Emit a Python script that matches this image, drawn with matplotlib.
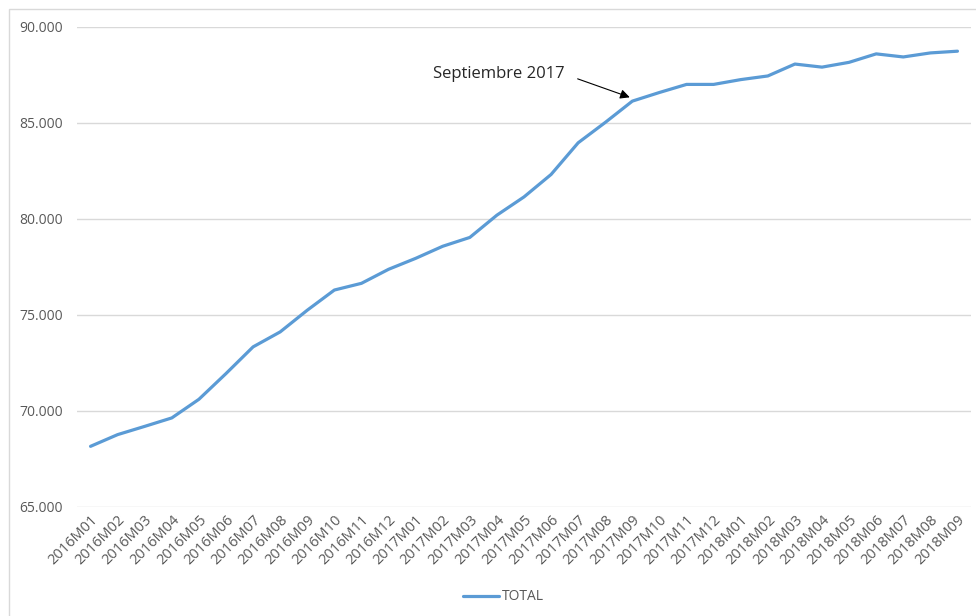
import matplotlib
matplotlib.use("Agg")
import matplotlib.pyplot as plt
from matplotlib.ticker import FuncFormatter
from matplotlib.patches import Rectangle

# periodos (mensual)
periodos = ["2016M01", "2016M02", "2016M03", "2016M04", "2016M05", "2016M06",
            "2016M07", "2016M08", "2016M09", "2016M10", "2016M11", "2016M12",
            "2017M01", "2017M02", "2017M03", "2017M04", "2017M05", "2017M06",
            "2017M07", "2017M08", "2017M09", "2017M10", "2017M11", "2017M12",
            "2018M01", "2018M02", "2018M03", "2018M04", "2018M05", "2018M06",
            "2018M07", "2018M08", "2018M09"]

# valores
total = [68160, 68770, 69200, 69640, 70610, 71950,
         73340, 74120, 75250, 76300, 76650, 77380,
         77950, 78580, 79040, 80200, 81150, 82320,
         83970, 85030, 86140, 86590, 87010, 87010,
         87260, 87450, 88070, 87910, 88160, 88600,
         88440, 88650, 88740]

W, H = 976, 616
fig = plt.figure(figsize=(W / 100, H / 100), dpi=100)
ax = fig.add_axes([77 / W, 1 - 507 / H, (971 - 77) / W, (507 - 27) / H])

x = list(range(len(periodos)))
ax.plot(x, total, color="#5B9BD5", lw=2.3, label="TOTAL", solid_capstyle="round")

ax.set_xlim(-0.5, len(periodos) - 0.5)
ax.set_ylim(65000, 90000)
ax.set_yticks(range(65000, 90001, 5000))
ax.yaxis.set_major_formatter(FuncFormatter(lambda v, p: f"{v/1000:.3f}"))
ax.set_xticks(x)
ax.set_xticklabels(periodos, rotation=45, ha="right", rotation_mode="anchor")

ax.grid(axis="y", color="#D9D9D9", lw=1)
ax.set_axisbelow(True)
for s in ax.spines.values():
    s.set_visible(False)
ax.tick_params(length=0, colors="#595959")
ax.tick_params(axis="y", pad=10, labelsize=10)
ax.tick_params(axis="x", pad=4, labelsize=10.5)
for t in ax.get_xticklabels() + ax.get_yticklabels():
    t.set_fontfamily("Open Sans")

# anotacion: texto y flecha
ax.text(17.5, 87550, "Septiembre 2017", ha="right", va="center", fontsize=12,
        family="Open Sans", color="#262626")
ax.annotate("", xy=(20, total[20] + 150), xytext=(17.98, 87300),
            arrowprops=dict(arrowstyle="-|>", color="black", lw=0.8, mutation_scale=14,
                            shrinkA=0, shrinkB=2))

leg = fig.legend(loc="center", bbox_to_anchor=(503 / W, 1 - 597 / H), frameon=False,
                 prop={"family": "Open Sans", "size": 10}, handlelength=2.6,
                 handletextpad=0.2)
for t in leg.get_texts():
    t.set_color("#595959")

# marco del grafico
fig.patches.append(Rectangle((9 / W, -0.05), 1.1, 1 - 9 / H + 0.05, transform=fig.transFigure,
                             fill=False, edgecolor="#D9D9D9", lw=1))

fig.savefig("out.png", dpi=100)
